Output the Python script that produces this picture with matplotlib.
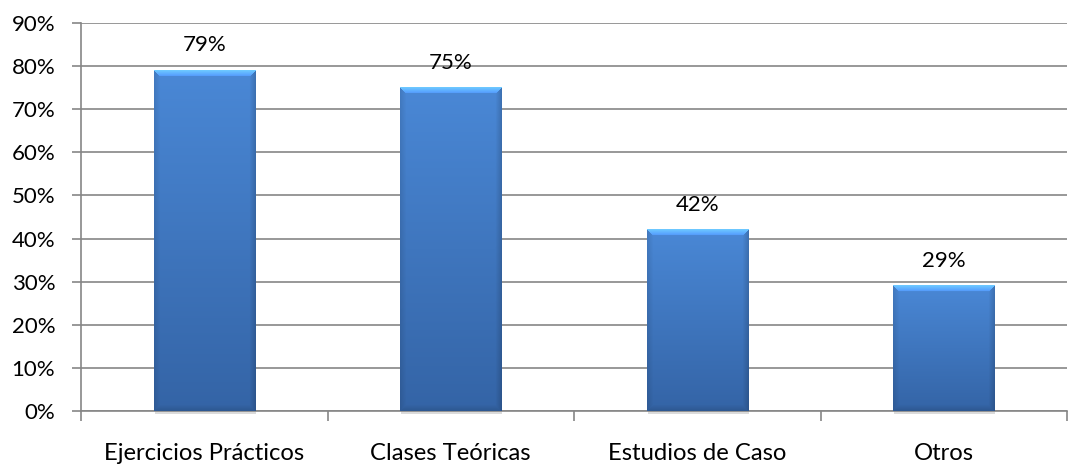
import numpy as np
import matplotlib
matplotlib.use("Agg")
import matplotlib.pyplot as plt
from matplotlib.ticker import MultipleLocator, FuncFormatter

categories = ["Ejercicios Prácticos", "Clases Teóricas", "Estudios de Caso", "Otros"]
values = [0.79, 0.75, 0.42, 0.29]
labels = ["79%", "75%", "42%", "29%"]

plt.rcParams['font.family'] = ['Lato', 'DejaVu Sans']

W, H, DPI = 1068, 465, 100
fig = plt.figure(figsize=(W / DPI, H / DPI), dpi=DPI)
ax = fig.add_axes([81 / W, 1 - 411 / H, (1067 - 81) / W, (411 - 23) / H])

n = len(categories)
x = np.arange(n)
bw = 0.41
ax.set_xlim(-0.5, n - 0.5)
ax.set_ylim(0, 0.9)

grid_c = "#868686"
ax.yaxis.set_major_locator(MultipleLocator(0.1))
ax.yaxis.set_major_formatter(FuncFormatter(lambda v, p: f"{v*100:.0f}%"))
ax.grid(axis='y', color=grid_c, linewidth=1.2, zorder=0)
ax.set_axisbelow(True)
for s in ['top', 'right']:
    ax.spines[s].set_visible(False)
ax.spines['left'].set_color(grid_c)
ax.spines['bottom'].set_color(grid_c)
ax.spines['left'].set_linewidth(1.2)
ax.spines['bottom'].set_linewidth(1.2)
ax.tick_params(axis='y', length=6.5, width=1.2, color=grid_c, labelsize=16, pad=12, labelcolor='black')
ax.set_xticks(x)
ax.set_xticklabels(categories, fontsize=17.2)
ax.tick_params(axis='x', length=0, pad=23)
ax.set_xticks(np.arange(n + 1) - 0.5, minor=True)
ax.tick_params(axis='x', which='minor', length=7, width=1.2, color=grid_c)

px_per_x = (1067 - 81) / n
px_per_y = (411 - 23) / 0.9

top_c = np.array([74, 136, 214]) / 255
bot_c = np.array([52, 100, 166]) / 255

def bar_image(wpx, hpx):
    wpx = max(int(round(wpx)), 2)
    hpx = max(int(round(hpx)), 2)
    v = np.linspace(0, 1, hpx)[:, None]
    base = top_c[None, None, :] * (1 - v[..., None]) + bot_c[None, None, :] * v[..., None]
    img = np.repeat(base, wpx, axis=1).copy()
    bev = 6
    ii, jj = np.mgrid[0:hpx, 0:wpx]
    dl = jj
    dr = wpx - 1 - jj
    dt = ii
    db = hpx - 1 - ii
    stack = np.stack([dt, dl, dr, db])
    dmin = stack.min(axis=0)
    mask = dmin < bev
    which = np.argmin(stack, axis=0)
    t = 1 - dmin / bev
    factor = np.ones((hpx, wpx))
    factor = np.where((which == 0) & mask, 1.12 + 0.35 * t, factor)
    factor = np.where((which == 1) & mask, 1 - 0.10 * t, factor)
    factor = np.where((which == 2) & mask, 1 - 0.16 * t, factor)
    factor = np.where((which == 3) & mask, 1 - 0.12 * t, factor)
    img = np.clip(img * factor[..., None], 0, 1)
    return img

for xi, v, lab in zip(x, values, labels):
    x0, x1 = xi - bw / 2, xi + bw / 2
    ax.add_patch(plt.Rectangle((x0 + 0.004, -0.006), bw, v, facecolor='#b0b0b0', alpha=0.45,
                               edgecolor='none', zorder=2, clip_on=False))
    img = bar_image(bw * px_per_x, v * px_per_y)
    ax.imshow(img, extent=(x0, x1, 0, v), aspect='auto', zorder=3, interpolation='bilinear')
    ax.text(xi, v + 0.035, lab, ha='center', va='bottom', fontsize=16, zorder=4)

ax.set_xlim(-0.5, n - 0.5)
ax.set_ylim(0, 0.9)
fig.savefig("out.png", dpi=DPI)
